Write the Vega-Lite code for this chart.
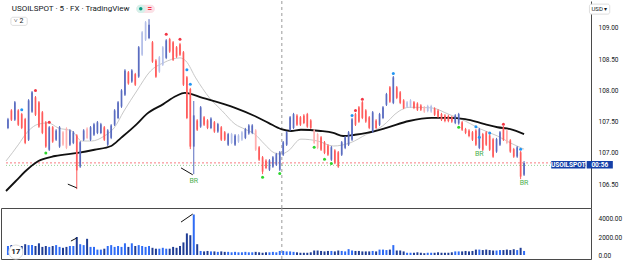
{
"$schema": "https://vega.github.io/schema/vega-lite/v6.json",
"padding": 0,
"spacing": 0,
"bounds": "flush",
"background": "white",
"config": {"view": {"stroke": null}, "font": "Roboto", "axis": {"labelOverlap": false, "labelFlush": false}},
"resolve": {"scale": {"x": "independent", "y": "independent"}},
"datasets": {
"bars": [
{"i":0,"o":107.40,"h":107.56,"l":107.38,"c":107.54,"v":1000},
{"i":1,"o":107.68,"h":107.70,"l":107.51,"c":107.53,"v":1100},
{"i":2,"o":107.53,"h":107.83,"l":107.51,"c":107.81,"v":900},
{"i":3,"o":107.68,"h":107.70,"l":107.43,"c":107.45,"v":800},
{"i":4,"o":107.62,"h":107.64,"l":107.38,"c":107.40,"v":1000},
{"i":5,"o":107.54,"h":107.56,"l":107.14,"c":107.16,"v":1200},
{"i":6,"o":107.21,"h":107.86,"l":107.19,"c":107.84,"v":1100},
{"i":7,"o":107.66,"h":107.99,"l":107.64,"c":107.97,"v":1100},
{"i":8,"o":107.89,"h":107.91,"l":107.59,"c":107.61,"v":1000},
{"i":9,"o":107.81,"h":107.83,"l":107.40,"c":107.42,"v":1300},
{"i":10,"o":107.65,"h":107.67,"l":107.30,"c":107.32,"v":900},
{"i":11,"o":107.49,"h":107.51,"l":107.08,"c":107.10,"v":1000},
{"i":12,"o":107.05,"h":107.43,"l":107.03,"c":107.41,"v":900},
{"i":13,"o":107.41,"h":107.43,"l":107.16,"c":107.18,"v":1000},
{"i":14,"o":107.21,"h":107.38,"l":107.19,"c":107.36,"v":1100},
{"i":15,"o":107.10,"h":107.43,"l":107.08,"c":107.41,"v":900},
{"i":16,"o":107.33,"h":107.35,"l":107.11,"c":107.13,"v":800,"w":1},
{"i":17,"o":107.39,"h":107.41,"l":107.06,"c":107.08,"v":900,"w":1},
{"i":18,"o":107.13,"h":107.38,"l":107.11,"c":107.36,"v":1000},
{"i":19,"o":107.16,"h":107.35,"l":107.14,"c":107.33,"v":1000},
{"i":20,"o":107.28,"h":107.30,"l":106.42,"c":106.72,"v":2000},
{"i":21,"o":106.78,"h":107.19,"l":106.76,"c":107.17,"v":1200},
{"i":22,"o":107.21,"h":107.38,"l":107.19,"c":107.36,"v":1100},
{"i":23,"o":107.39,"h":107.41,"l":107.22,"c":107.24,"v":1800,"w":1},
{"i":24,"o":107.21,"h":107.43,"l":107.19,"c":107.41,"v":900},
{"i":25,"o":107.29,"h":107.48,"l":107.27,"c":107.46,"v":900},
{"i":26,"o":107.32,"h":107.51,"l":107.30,"c":107.49,"v":600},
{"i":27,"o":107.32,"h":107.48,"l":107.30,"c":107.46,"v":600},
{"i":28,"o":107.41,"h":107.43,"l":107.19,"c":107.21,"v":700},
{"i":29,"o":107.13,"h":107.38,"l":107.11,"c":107.36,"v":1000},
{"i":30,"o":107.24,"h":107.46,"l":107.22,"c":107.44,"v":1100},
{"i":31,"o":107.45,"h":107.70,"l":107.43,"c":107.68,"v":900},
{"i":32,"o":107.56,"h":107.83,"l":107.54,"c":107.81,"v":1000},
{"i":33,"o":107.74,"h":108.02,"l":107.72,"c":108.00,"v":900},
{"i":34,"o":107.93,"h":108.34,"l":107.91,"c":108.32,"v":1300},
{"i":35,"o":108.29,"h":108.31,"l":108.09,"c":108.11,"v":900},
{"i":36,"o":108.14,"h":108.34,"l":108.12,"c":108.32,"v":1300},
{"i":37,"o":108.26,"h":108.28,"l":108.07,"c":108.09,"v":1000},
{"i":38,"o":108.22,"h":108.71,"l":108.20,"c":108.69,"v":1100},
{"i":39,"o":108.57,"h":108.95,"l":108.55,"c":108.93,"v":1000,"w":1},
{"i":40,"o":108.81,"h":109.11,"l":108.79,"c":109.09,"v":900,"w":1},
{"i":41,"o":108.84,"h":109.14,"l":108.82,"c":109.05,"v":1000},
{"i":42,"o":108.77,"h":108.79,"l":108.44,"c":108.46,"v":800},
{"i":43,"o":108.48,"h":108.50,"l":108.20,"c":108.22,"v":700},
{"i":44,"o":108.30,"h":108.55,"l":108.28,"c":108.53,"v":700,"w":1},
{"i":45,"o":108.41,"h":108.71,"l":108.39,"c":108.69,"v":800,"w":1},
{"i":46,"o":108.52,"h":108.82,"l":108.50,"c":108.80,"v":700},
{"i":47,"o":108.82,"h":108.84,"l":108.60,"c":108.62,"v":700},
{"i":48,"o":108.77,"h":108.79,"l":108.47,"c":108.49,"v":900},
{"i":49,"o":108.69,"h":108.71,"l":108.52,"c":108.54,"v":800},
{"i":50,"o":108.74,"h":108.76,"l":108.55,"c":108.57,"v":1000},
{"i":51,"o":108.61,"h":108.63,"l":108.07,"c":108.09,"v":1400},
{"i":52,"o":108.21,"h":108.23,"l":107.54,"c":107.56,"v":2400},
{"i":53,"o":108.02,"h":108.04,"l":107.06,"c":107.10,"v":2200},
{"i":54,"o":107.10,"h":107.83,"l":106.66,"c":107.60,"v":4500},
{"i":55,"o":107.52,"h":107.54,"l":107.35,"c":107.37,"v":1200},
{"i":56,"o":107.42,"h":107.75,"l":107.40,"c":107.73,"v":450},
{"i":57,"o":107.57,"h":107.59,"l":107.43,"c":107.45,"v":400},
{"i":58,"o":107.52,"h":107.54,"l":107.38,"c":107.40,"v":450},
{"i":59,"o":107.40,"h":107.57,"l":107.38,"c":107.55,"v":400},
{"i":60,"o":107.49,"h":107.51,"l":107.32,"c":107.34,"v":400},
{"i":61,"o":107.34,"h":107.48,"l":107.32,"c":107.46,"v":350},
{"i":62,"o":107.41,"h":107.43,"l":107.19,"c":107.21,"v":400},
{"i":63,"o":107.33,"h":107.35,"l":107.19,"c":107.21,"v":350},
{"i":64,"o":107.13,"h":107.32,"l":107.11,"c":107.30,"v":350},
{"i":65,"o":107.16,"h":107.32,"l":107.14,"c":107.30,"v":300,"w":1},
{"i":66,"o":107.13,"h":107.30,"l":107.11,"c":107.28,"v":350},
{"i":67,"o":107.18,"h":107.30,"l":107.16,"c":107.28,"v":300,"w":1},
{"i":68,"o":107.21,"h":107.35,"l":107.19,"c":107.33,"v":300,"w":1},
{"i":69,"o":107.24,"h":107.40,"l":107.22,"c":107.38,"v":350},
{"i":70,"o":107.31,"h":107.46,"l":107.29,"c":107.44,"v":300},
{"i":71,"o":107.32,"h":107.46,"l":107.30,"c":107.44,"v":300},
{"i":72,"o":107.36,"h":107.38,"l":107.03,"c":107.05,"v":350,"w":1},
{"i":73,"o":107.09,"h":107.11,"l":106.87,"c":106.89,"v":300},
{"i":74,"o":106.93,"h":106.95,"l":106.66,"c":106.70,"v":250},
{"i":75,"o":106.88,"h":106.90,"l":106.74,"c":106.76,"v":300},
{"i":76,"o":106.73,"h":106.90,"l":106.71,"c":106.88,"v":300},
{"i":77,"o":106.78,"h":106.95,"l":106.76,"c":106.93,"v":350},
{"i":78,"o":106.81,"h":107.00,"l":106.79,"c":106.98,"v":300},
{"i":79,"o":106.73,"h":107.03,"l":106.71,"c":107.01,"v":450},
{"i":80,"o":106.97,"h":107.19,"l":106.95,"c":107.17,"v":450},
{"i":81,"o":107.13,"h":107.35,"l":107.11,"c":107.33,"v":400},
{"i":82,"o":107.37,"h":107.59,"l":107.35,"c":107.57,"v":400},
{"i":83,"o":107.40,"h":107.64,"l":107.38,"c":107.62,"v":350},
{"i":84,"o":107.60,"h":107.62,"l":107.43,"c":107.45,"v":300},
{"i":85,"o":107.57,"h":107.59,"l":107.43,"c":107.45,"v":250},
{"i":86,"o":107.60,"h":107.62,"l":107.46,"c":107.48,"v":250},
{"i":87,"o":107.62,"h":107.64,"l":107.40,"c":107.42,"v":250},
{"i":88,"o":107.52,"h":107.54,"l":107.38,"c":107.40,"v":300},
{"i":89,"o":107.36,"h":107.38,"l":107.14,"c":107.16,"v":500,"w":1},
{"i":90,"o":107.30,"h":107.32,"l":107.06,"c":107.08,"v":500,"w":1},
{"i":91,"o":107.25,"h":107.27,"l":107.03,"c":107.05,"v":450},
{"i":92,"o":107.17,"h":107.19,"l":106.98,"c":107.00,"v":400},
{"i":93,"o":107.12,"h":107.14,"l":106.95,"c":106.97,"v":450},
{"i":94,"o":106.89,"h":107.11,"l":106.87,"c":107.09,"v":450},
{"i":95,"o":107.04,"h":107.06,"l":106.82,"c":106.84,"v":400},
{"i":96,"o":107.01,"h":107.03,"l":106.76,"c":106.78,"v":500},
{"i":97,"o":106.97,"h":107.19,"l":106.95,"c":107.17,"v":450},
{"i":98,"o":107.08,"h":107.27,"l":107.06,"c":107.25,"v":400},
{"i":99,"o":107.13,"h":107.35,"l":107.11,"c":107.33,"v":650},
{"i":100,"o":107.21,"h":107.56,"l":107.19,"c":107.54,"v":500},
{"i":101,"o":107.62,"h":107.64,"l":107.43,"c":107.45,"v":450},
{"i":102,"o":107.73,"h":107.75,"l":107.48,"c":107.50,"v":450},
{"i":103,"o":107.81,"h":107.83,"l":107.54,"c":107.56,"v":400},
{"i":104,"o":107.68,"h":107.70,"l":107.48,"c":107.50,"v":400},
{"i":105,"o":107.57,"h":107.59,"l":107.38,"c":107.40,"v":400},
{"i":106,"o":107.34,"h":107.67,"l":107.32,"c":107.65,"v":450},
{"i":107,"o":107.52,"h":107.54,"l":107.38,"c":107.40,"v":400},
{"i":108,"o":107.45,"h":107.64,"l":107.43,"c":107.62,"v":600},
{"i":109,"o":107.56,"h":107.75,"l":107.54,"c":107.73,"v":600},
{"i":110,"o":107.77,"h":107.96,"l":107.75,"c":107.94,"v":550},
{"i":111,"o":108.05,"h":108.07,"l":107.80,"c":107.82,"v":600},
{"i":112,"o":107.80,"h":108.23,"l":107.78,"c":108.21,"v":1100},
{"i":113,"o":108.05,"h":108.07,"l":107.86,"c":107.88,"v":500},
{"i":114,"o":107.97,"h":107.99,"l":107.78,"c":107.80,"v":500},
{"i":115,"o":107.84,"h":107.86,"l":107.70,"c":107.72,"v":400},
{"i":116,"o":107.74,"h":107.83,"l":107.72,"c":107.81,"v":250,"w":1},
{"i":117,"o":107.74,"h":107.86,"l":107.72,"c":107.84,"v":250,"w":1},
{"i":118,"o":107.81,"h":107.83,"l":107.70,"c":107.72,"v":250},
{"i":119,"o":107.79,"h":107.81,"l":107.67,"c":107.69,"v":300},
{"i":120,"o":107.76,"h":107.78,"l":107.67,"c":107.69,"v":250},
{"i":121,"o":107.73,"h":107.75,"l":107.64,"c":107.66,"v":200,"w":1},
{"i":122,"o":107.67,"h":107.77,"l":107.65,"c":107.75,"v":250,"w":1},
{"i":123,"o":107.66,"h":107.77,"l":107.64,"c":107.75,"v":250,"w":1},
{"i":124,"o":107.71,"h":107.73,"l":107.59,"c":107.61,"v":250},
{"i":125,"o":107.68,"h":107.70,"l":107.56,"c":107.58,"v":300},
{"i":126,"o":107.62,"h":107.64,"l":107.51,"c":107.53,"v":250},
{"i":127,"o":107.60,"h":107.62,"l":107.49,"c":107.51,"v":250},
{"i":128,"o":107.59,"h":107.61,"l":107.49,"c":107.51,"v":250},
{"i":129,"o":107.57,"h":107.59,"l":107.48,"c":107.50,"v":300},
{"i":130,"o":107.48,"h":107.62,"l":107.46,"c":107.60,"v":400},
{"i":131,"o":107.47,"h":107.64,"l":107.45,"c":107.62,"v":400},
{"i":132,"o":107.49,"h":107.51,"l":107.35,"c":107.37,"v":400},
{"i":133,"o":107.38,"h":107.40,"l":107.30,"c":107.32,"v":450},
{"i":134,"o":107.36,"h":107.38,"l":107.25,"c":107.27,"v":400},
{"i":135,"o":107.33,"h":107.35,"l":107.19,"c":107.21,"v":450},
{"i":136,"o":107.36,"h":107.38,"l":107.11,"c":107.13,"v":600},
{"i":137,"o":107.08,"h":107.40,"l":107.06,"c":107.38,"v":600},
{"i":138,"o":107.30,"h":107.32,"l":107.03,"c":107.05,"v":550},
{"i":139,"o":107.33,"h":107.35,"l":107.11,"c":107.13,"v":600},
{"i":140,"o":107.28,"h":107.30,"l":107.03,"c":107.05,"v":550},
{"i":141,"o":107.22,"h":107.24,"l":106.92,"c":106.94,"v":500},
{"i":142,"o":107.02,"h":107.24,"l":107.00,"c":107.22,"v":500},
{"i":143,"o":107.13,"h":107.35,"l":107.11,"c":107.33,"v":550},
{"i":144,"o":107.41,"h":107.43,"l":107.19,"c":107.21,"v":550},
{"i":145,"o":107.36,"h":107.38,"l":107.14,"c":107.16,"v":600,"w":1},
{"i":146,"o":107.20,"h":107.22,"l":107.00,"c":107.02,"v":550},
{"i":147,"o":107.06,"h":107.08,"l":106.92,"c":106.94,"v":650},
{"i":148,"o":106.94,"h":107.11,"l":106.92,"c":107.09,"v":550},
{"i":149,"o":107.01,"h":107.03,"l":106.58,"c":106.62,"v":800},
{"i":150,"o":106.65,"h":106.87,"l":106.63,"c":106.84,"v":450}
],
"slow": [
{"i":-0.57,"p":106.39},{"i":2.29,"p":106.55},{"i":5.14,"p":106.71},{"i":8.86,"p":106.87},{"i":13.71,"p":106.95},{"i":20.29,"p":107.0},{"i":25.14,"p":107.05},{"i":30,"p":107.11},{"i":32.86,"p":107.24},{"i":37.43,"p":107.46},{"i":40.29,"p":107.62},{"i":45.14,"p":107.78},{"i":48.86,"p":107.91},{"i":51.43,"p":107.96},{"i":56.57,"p":107.88},{"i":66,"p":107.72},{"i":71.71,"p":107.59},{"i":75.71,"p":107.48},{"i":79.43,"p":107.38},{"i":82.29,"p":107.35},{"i":85.14,"p":107.37},{"i":90.86,"p":107.35},{"i":94.57,"p":107.32},{"i":97.43,"p":107.27},{"i":100.86,"p":107.29},{"i":104.29,"p":107.32},{"i":110,"p":107.4},{"i":116.57,"p":107.51},{"i":123.14,"p":107.56},{"i":128,"p":107.56},{"i":132.86,"p":107.54},{"i":138.57,"p":107.46},{"i":142.29,"p":107.41},{"i":146,"p":107.38},{"i":150,"p":107.3}
],
"fast": [
{"i":-0.57,"p":106.87},{"i":3.14,"p":107.14},{"i":5.14,"p":107.3},{"i":8.86,"p":107.46},{"i":11.71,"p":107.48},{"i":14.57,"p":107.4},{"i":18.57,"p":107.35},{"i":21.43,"p":107.19},{"i":24.29,"p":107.19},{"i":28,"p":107.27},{"i":30.86,"p":107.4},{"i":33.71,"p":107.67},{"i":37.43,"p":107.99},{"i":41.43,"p":108.31},{"i":45.14,"p":108.44},{"i":50,"p":108.52},{"i":51.71,"p":108.47},{"i":54.57,"p":108.2},{"i":58.57,"p":107.88},{"i":62.29,"p":107.67},{"i":66,"p":107.46},{"i":68.86,"p":107.38},{"i":71.71,"p":107.3},{"i":74.57,"p":107.14},{"i":77.43,"p":107.0},{"i":79.43,"p":106.98},{"i":81.43,"p":107.03},{"i":85.14,"p":107.22},{"i":90,"p":107.19},{"i":94.57,"p":107.11},{"i":99.43,"p":107.16},{"i":104.29,"p":107.3},{"i":108.86,"p":107.43},{"i":113.71,"p":107.67},{"i":116.57,"p":107.73},{"i":123.14,"p":107.72},{"i":128,"p":107.62},{"i":132.86,"p":107.51},{"i":137.43,"p":107.38},{"i":142.29,"p":107.27},{"i":146,"p":107.16},{"i":150,"p":107.06}
],
"sig": [
{"i":4,"p":107.69,"k":"b"},{"i":8,"p":108.0,"k":"r"},{"i":12,"p":107.49,"k":"r"},{"i":11,"p":107.0,"k":"g"},
{"i":46,"p":108.9,"k":"r"},{"i":50,"p":108.82,"k":"r"},{"i":52,"p":108.33,"k":"b"},{"i":53,"p":108.1,"k":"b"},
{"i":74,"p":106.61,"k":"g"},{"i":79,"p":106.67,"k":"g"},{"i":89,"p":107.09,"k":"g"},{"i":92,"p":106.9,"k":"g"},{"i":94,"p":106.83,"k":"g"},
{"i":100,"p":107.6,"k":"b"},{"i":101,"p":107.68,"k":"r"},{"i":103,"p":107.86,"k":"r"},{"i":112,"p":108.27,"k":"b"},
{"i":131,"p":107.41,"k":"g"},{"i":136,"p":107.42,"k":"b"},{"i":137,"p":107.25,"k":"b"},{"i":140,"p":107.32,"k":"b"},{"i":144,"p":107.46,"k":"r"},{"i":149,"p":107.06,"k":"b"}
],
"br": [{"i":54,"p":106.55,"t":"BR"},{"i":137,"p":106.98,"t":"BR"},{"i":150,"p":106.52,"t":"BR"}],
"div": [{"s":1,"i":17.4,"p":106.5},{"s":1,"i":20,"p":106.44},{"s":2,"i":50.3,"p":106.76},{"s":2,"i":53.7,"p":106.65}],
"vdiv": [{"s":1,"i":18.3,"v":1550},{"s":1,"i":20,"v":1890},{"s":2,"i":50.3,"v":3660},{"s":2,"i":53.7,"v":4550}],
"lvl": [{"i":-0.57,"i2":168,"p":106.84,"k":"r"},{"i":-0.57,"i2":168,"p":106.80,"k":"g"}]
},
"vconcat": [
{
"width": 590, "height": 207,
"encoding": {"x": {"field": "i", "type": "quantitative", "scale": {"domain": [-0.57, 168], "nice": false, "zero": false}, "axis": null}},
"layer": [
{"data": {"values": [{"i": 79.6}]}, "mark": {"type": "rule", "color": "#9a9a9a", "strokeDash": [3, 3], "strokeWidth": 1}, "encoding": {}},
{"data": {"name": "lvl"}, "transform": [{"filter": "datum.k == 'r'"}], "mark": {"type": "rule", "color": "#f77c80", "strokeDash": [2, 2], "strokeWidth": 1},
 "encoding": {"x2": {"field": "i2"}, "y": {"field": "p", "type": "quantitative", "scale": {"domain": [106.118, 109.43], "nice": false, "zero": false}, "axis": {"orient": "right", "values": [106.5, 107, 107.5, 108, 108.5, 109], "format": ".2f", "ticks": false, "grid": false, "domain": true, "domainColor": "#4a4a4a", "labelFontSize": 6.5, "labelColor": "#131722", "labelPadding": 7, "title": null}}}},
{"data": {"name": "lvl"}, "transform": [{"filter": "datum.k == 'g'"}], "mark": {"type": "rule", "color": "#9ad39a", "strokeDash": [1, 2], "strokeWidth": 1},
 "encoding": {"x2": {"field": "i2"}, "y": {"field": "p", "type": "quantitative", "title": null}}},
{"data": {"name": "fast"}, "mark": {"type": "line", "color": "#c8c8c8", "strokeWidth": 1, "interpolate": "monotone"},
 "encoding": {"y": {"field": "p", "type": "quantitative", "title": null}}},
{"data": {"name": "slow"}, "mark": {"type": "line", "color": "#111111", "strokeWidth": 1.8, "interpolate": "monotone"},
 "encoding": {"y": {"field": "p", "type": "quantitative", "title": null}}},
{"data": {"name": "bars"}, "mark": {"type": "rule", "strokeWidth": 1},
 "encoding": {"y": {"field": "l", "type": "quantitative", "title": null}, "y2": {"field": "h"},
  "color": {"condition": [{"test": "datum.c >= datum.o && datum.w == 1", "value": "#b4bfe8"}, {"test": "datum.c >= datum.o", "value": "#5a6cc0"}, {"test": "datum.w == 1", "value": "#ffb0b0"}], "value": "#ff5b5b"}}},
{"data": {"name": "bars"}, "mark": {"type": "bar", "size": 1.7},
 "encoding": {"y": {"field": "o", "type": "quantitative", "title": null}, "y2": {"field": "c"},
  "color": {"condition": [{"test": "datum.c >= datum.o && datum.w == 1", "value": "#b4bfe8"}, {"test": "datum.c >= datum.o", "value": "#5a6cc0"}, {"test": "datum.w == 1", "value": "#ffb0b0"}], "value": "#ff5b5b"}}},
{"data": {"name": "sig"}, "mark": {"type": "point", "filled": true, "size": 9, "opacity": 1},
 "encoding": {"y": {"field": "p", "type": "quantitative", "title": null},
  "color": {"field": "k", "type": "nominal", "scale": {"domain": ["b", "r", "g"], "range": ["#2196f3", "#f23645", "#2ed52e"]}, "legend": null}}},
{"data": {"name": "br"}, "mark": {"type": "text", "color": "#4caf50", "fontSize": 7, "baseline": "middle"},
 "encoding": {"y": {"field": "p", "type": "quantitative", "title": null}, "text": {"field": "t"}}},
{"data": {"name": "div"}, "mark": {"type": "line", "color": "#111111", "strokeWidth": 1},
 "encoding": {"y": {"field": "p", "type": "quantitative", "title": null}, "detail": {"field": "s"}}},
{"data": {"values": [{"i": 1.1, "p": 109.31, "t": "USOILSPOT · 5 · FX  · TradingView"}]}, "mark": {"type": "text", "align": "left", "baseline": "middle", "fontSize": 8, "color": "#131722"},
 "encoding": {"y": {"field": "p", "type": "quantitative", "title": null}, "text": {"field": "t"}}},
{"data": {"values": [{"i": 0.86, "i2": 5.6, "p": 109.17, "p2": 109.04}]}, "mark": {"type": "rect", "fill": "white", "stroke": "#d6d6d6", "strokeWidth": 0.8, "cornerRadius": 2},
 "encoding": {"x2": {"field": "i2"}, "y": {"field": "p", "type": "quantitative", "title": null}, "y2": {"field": "p2"}}},
{"data": {"values": [{"i": 1.7, "p": 109.105, "t": "˅ 2"}]}, "mark": {"type": "text", "align": "left", "baseline": "middle", "fontSize": 7, "color": "#131722"},
 "encoding": {"y": {"field": "p", "type": "quantitative", "title": null}, "text": {"field": "t"}}},
{"data": {"values": [{"i": 37.3, "i2": 42.7, "p": 109.37, "p2": 109.24}]}, "mark": {"type": "rect", "fill": "#fbe1e6", "cornerRadius": 4},
 "encoding": {"x2": {"field": "i2"}, "y": {"field": "p", "type": "quantitative", "title": null}, "y2": {"field": "p2"}}},
{"data": {"values": [{"i": 37.3, "i2": 40, "p": 109.37, "p2": 109.24}]}, "mark": {"type": "rect", "fill": "#d5f1ea", "cornerRadius": 4},
 "encoding": {"x2": {"field": "i2"}, "y": {"field": "p", "type": "quantitative", "title": null}, "y2": {"field": "p2"}}},
{"data": {"values": [{"i": 38.6, "p": 109.305}]}, "mark": {"type": "point", "filled": true, "size": 12, "color": "#089981", "opacity": 1},
 "encoding": {"y": {"field": "p", "type": "quantitative", "title": null}}},
{"data": {"values": [{"i": 41.2, "p": 109.305, "t": "="}]}, "mark": {"type": "text", "fontSize": 8, "fontWeight": "bold", "color": "#f23645", "baseline": "middle"},
 "encoding": {"y": {"field": "p", "type": "quantitative", "title": null}, "text": {"field": "t"}}},
{"data": {"values": [{"i": 169.0, "i2": 174.9, "p": 109.38, "p2": 109.22}]}, "mark": {"type": "rect", "fill": "white", "stroke": "#d6d6d6", "strokeWidth": 0.8, "cornerRadius": 2},
 "encoding": {"x2": {"field": "i2"}, "y": {"field": "p", "type": "quantitative", "title": null}, "y2": {"field": "p2"}}},
{"data": {"values": [{"i": 171.9, "p": 109.30, "t": "USD ▾"}]}, "mark": {"type": "text", "fontSize": 6, "color": "#131722", "baseline": "middle"},
 "encoding": {"y": {"field": "p", "type": "quantitative", "title": null}, "text": {"field": "t"}}},
{"data": {"values": [{"i": 157.9, "i2": 167.8, "p": 106.87, "p2": 106.75}, {"i": 168.2, "i2": 175.8, "p": 106.87, "p2": 106.75}]}, "mark": {"type": "rect", "fill": "#1540a8"},
 "encoding": {"x2": {"field": "i2"}, "y": {"field": "p", "type": "quantitative", "title": null}, "y2": {"field": "p2"}}},
{"data": {"values": [{"i": 162.85, "p": 106.81, "t": "USOILSPOT"}, {"i": 172, "p": 106.81, "t": "00:56"}]}, "mark": {"type": "text", "fontSize": 6.5, "fontWeight": "bold", "color": "white", "baseline": "middle"},
 "encoding": {"y": {"field": "p", "type": "quantitative", "title": null}, "text": {"field": "t"}}}
]
},
{
"width": 590, "height": 51,
"view": {"stroke": "#4a4a4a", "strokeWidth": 1},
"encoding": {"x": {"field": "i", "type": "quantitative", "scale": {"domain": [-0.57, 168], "nice": false, "zero": false}, "axis": null}},
"layer": [
{"data": {"values": [{"i": 79.6}]}, "mark": {"type": "rule", "color": "#9a9a9a", "strokeDash": [3, 3], "strokeWidth": 1}, "encoding": {}},
{"data": {"name": "bars"}, "mark": {"type": "bar", "size": 2},
 "encoding": {"y": {"field": "v", "type": "quantitative", "scale": {"domain": [-444, 5222], "nice": false, "zero": false}, "axis": {"orient": "right", "tickCount": 3, "format": ".2f", "ticks": false, "grid": false, "domain": false, "labelFontSize": 6.5, "labelColor": "#131722", "labelPadding": 7, "labelOverlap": false, "labelSeparation": 0, "title": null}},
  "y2": {"datum": 0},
  "color": {"condition": {"test": "datum.c >= datum.o", "value": "#2f6cf5"}, "value": "#1f3d95"}}},
{"data": {"name": "vdiv"}, "mark": {"type": "line", "color": "#111111", "strokeWidth": 1},
 "encoding": {"y": {"field": "v", "type": "quantitative", "title": null}, "detail": {"field": "s"}}},
{"data": {"values": [{"i": 2.3, "v": 330}]}, "mark": {"type": "point", "filled": true, "size": 200, "color": "white", "stroke": "#dddddd", "strokeWidth": 1, "opacity": 1},
 "encoding": {"y": {"field": "v", "type": "quantitative", "title": null}}},
{"data": {"values": [{"i": 2.3, "v": 330, "t": "17"}]}, "mark": {"type": "text", "fontSize": 8, "fontWeight": "bold", "color": "#131722", "baseline": "middle"},
 "encoding": {"y": {"field": "v", "type": "quantitative", "title": null}, "text": {"field": "t"}}}
]
}
]
}
